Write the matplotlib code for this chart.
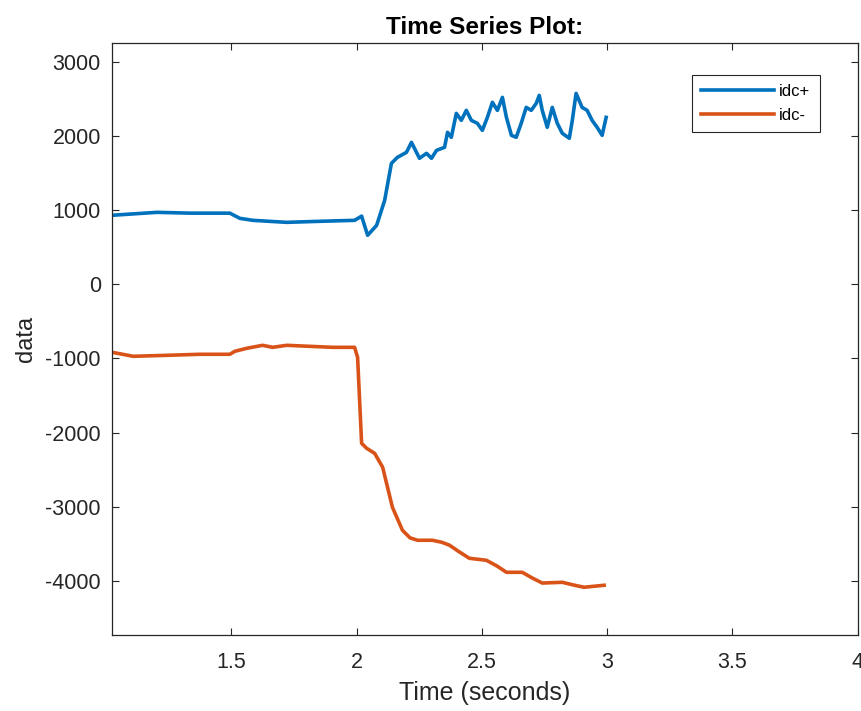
import matplotlib.pyplot as plt
from matplotlib.ticker import FixedLocator

plt.rcParams['font.family'] = ['Liberation Sans', 'DejaVu Sans']
plt.rcParams['axes.unicode_minus'] = False

# idc+ (blue) readings
t_pos = [1.024, 1.108, 1.203, 1.335, 1.494, 1.534, 1.586, 1.721, 1.853, 1.992,
         2.020, 2.044, 2.080, 2.112, 2.139, 2.163, 2.199, 2.219, 2.251, 2.279,
         2.299, 2.319, 2.351, 2.363, 2.378, 2.398, 2.418, 2.438, 2.458, 2.482,
         2.502, 2.522, 2.542, 2.562, 2.582, 2.598, 2.618, 2.637, 2.657, 2.677,
         2.697, 2.717, 2.729, 2.741, 2.761, 2.781, 2.801, 2.821, 2.849, 2.861,
         2.876, 2.900, 2.920, 2.940, 2.960, 2.980, 2.996]
idc_pos = [931, 950, 971, 960, 960, 890, 863, 836, 850, 863,
           920, 661, 796, 1133, 1632, 1713, 1780, 1915, 1700, 1767,
           1700, 1807, 1848, 2050, 1983, 2306, 2212, 2347, 2212, 2172,
           2077, 2252, 2455, 2347, 2522, 2252, 2010, 1983, 2172, 2387,
           2347, 2441, 2549, 2347, 2118, 2387, 2172, 2037, 1970, 2212,
           2576, 2387, 2347, 2212, 2118, 2010, 2252]

# idc- (orange) readings
t_neg = [1.024, 1.108, 1.243, 1.375, 1.494, 1.514, 1.562, 1.625, 1.665, 1.721,
         1.904, 1.992, 2.004, 2.020, 2.040, 2.072, 2.104, 2.143, 2.183, 2.213,
         2.243, 2.303, 2.340, 2.371, 2.410, 2.450, 2.518, 2.560, 2.598, 2.661,
         2.700, 2.741, 2.821, 2.870, 2.908, 2.988]
idc_neg = [-917, -971, -958, -944, -944, -904, -863, -823, -850, -823,
           -850, -850, -985, -2145, -2212, -2280, -2468, -3008, -3318, -3420,
           -3453, -3453, -3480, -3520, -3610, -3696, -3723, -3800, -3885, -3885,
           -3960, -4030, -4020, -4060, -4087, -4060]

x_ticks = [1.5, 2, 2.5, 3, 3.5, 4]
x_labels = ['1.5', '2', '2.5', '3', '3.5', '4']
y_ticks = [-4000, -3000, -2000, -1000, 0, 1000, 2000, 3000]

fig = plt.figure(figsize=(8.62, 7.11), dpi=100)
ax = fig.add_axes([0.130, 0.107, 0.865, 0.833])

ax.plot(t_pos, idc_pos, color='#0072BD', linewidth=2.6, label='idc+')
ax.plot(t_neg, idc_neg, color='#D95319', linewidth=2.6, label='idc-')

ax.set_xlim(1.024, 4)
ax.set_ylim(-4730, 3260)
ax.xaxis.set_major_locator(FixedLocator(x_ticks))
ax.yaxis.set_major_locator(FixedLocator(y_ticks))
ax.set_xticklabels(x_labels)

ax.tick_params(direction='in', length=5, width=0.8, top=True, right=True,
               labelsize=15.5, colors='#262626')
ax.tick_params(axis='x', pad=12)
ax.tick_params(axis='y', pad=8)
for s in ax.spines.values():
    s.set_color('#262626')
    s.set_linewidth(0.9)

ax.set_title('Time Series Plot:', fontsize=17.5, fontweight='bold', pad=6)
ax.set_xlabel('Time (seconds)', fontsize=18, color='#262626', labelpad=6)
ax.set_ylabel('data', fontsize=17, color='#262626', labelpad=6)

leg = ax.legend(loc='upper right', bbox_to_anchor=(0.949, 0.946), fontsize=12,
                handlelength=4.4, fancybox=False, framealpha=1, edgecolor='#262626',
                borderpad=0.55, labelspacing=0.55, handletextpad=0.3, borderaxespad=0)
leg.get_frame().set_linewidth(0.8)

fig.savefig('out.png', dpi=100, facecolor='white')
